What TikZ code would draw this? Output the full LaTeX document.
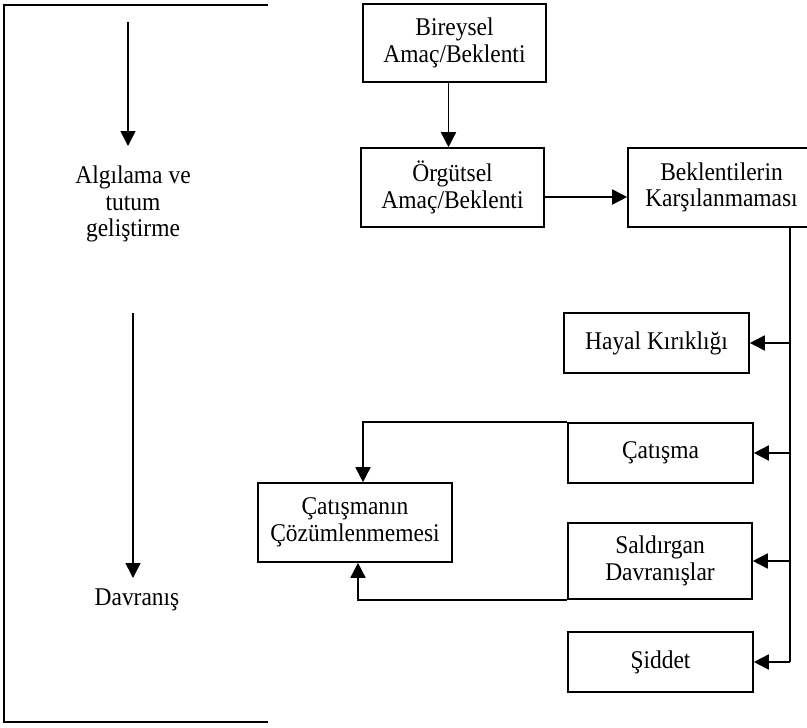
\documentclass[tikz,border=0pt]{standalone}
\usepackage{fontspec}
\setmainfont{Liberation Serif}[FakeStretch=0.92]
\usetikzlibrary{positioning,calc,arrows.meta}

\begin{document}
\begin{tikzpicture}[
  x=1pt, y=-1pt,
  kutu/.style={draw=black, line width=1.6pt, align=center, inner sep=2pt,
               font=\fontsize{25.5}{26.5}\selectfont},
  yazi/.style={align=center, font=\fontsize{25.5}{26.5}\selectfont},
  cizgi/.style={line width=1.6pt},
  ok/.style={line width=1.6pt, -{Triangle[length=15pt,width=15pt]}},
]
\useasboundingbox (0,0) rectangle (807,728);

% Left column: bracket and the two stages
\draw[cizgi] (268,5) -- (4,5) -- (4,722) -- (268,722);
\node[yazi] (algi) at (133, 204) {Algılama ve\\tutum\\geliştirme};
\node[yazi] (davranis) at (137, 600) {Davranış};
\coordinate (ok1bas) at (128, 22);
\coordinate (ok1son) at (128, 146);
\coordinate (ok2bas) at (133, 313);
\coordinate (ok2son) at (133, 578);
\draw[ok] (ok1bas) -- (ok1son);
\draw[ok] (ok2bas) -- (ok2son);

% Row 0: individual expectation
\node[kutu, minimum width=183pt, minimum height=78pt] (bireysel) at (454.5, 43)
  {Bireysel\\Amaç/Beklenti};

% Row 1: organisational expectation + unmet expectations
\node[kutu, minimum width=183pt, minimum height=79pt] (orgutsel) at (452.5, 187.5)
  {Örgütsel\\Amaç/Beklenti};
\node[kutu, minimum width=187pt, minimum height=79pt] (karsilanma) at (721.5, 187.5)
  {Beklentilerin\\Karşılanmaması};

% Outcomes on the right
\node[kutu, minimum width=185pt, minimum height=60pt] (hayal) at (656.5, 343)
  {Hayal Kırıklığı};
\node[kutu, minimum width=185pt, minimum height=60pt] (catisma) at (660.5, 453)
  {Çatışma};
\node[kutu, minimum width=184pt, minimum height=76pt] (saldirgan) at (660, 561)
  {Saldırgan\\Davranışlar};
\node[kutu, minimum width=185pt, minimum height=60pt] (siddet) at (660.5, 662)
  {Şiddet};

% Unresolved conflict
\node[kutu, minimum width=194pt, minimum height=79pt] (cozum) at (355, 522.5)
  {Çatışmanın\\Çözümlenmemesi};

% Main flow
\draw[ok] ([xshift=-6pt]bireysel.south) -- ([xshift=-4pt]orgutsel.north);
\draw[ok] (orgutsel.east |- 0,197) -- (karsilanma.west |- 0,197);

% Right-hand bus to the outcomes
\coordinate (dikey) at (790, 662);
\draw[cizgi] (karsilanma.south -| dikey) -- (dikey);
\foreach \hedef in {hayal, catisma, saldirgan, siddet}
  \draw[ok] (\hedef.east -| dikey) -- (\hedef.east);

% Feedback into unresolved conflict
\draw[ok] (catisma.north west) -| ([xshift=8pt]cozum.north);
\draw[ok] (saldirgan.south west) -| ([xshift=3pt]cozum.south);

\end{tikzpicture}
\end{document}
